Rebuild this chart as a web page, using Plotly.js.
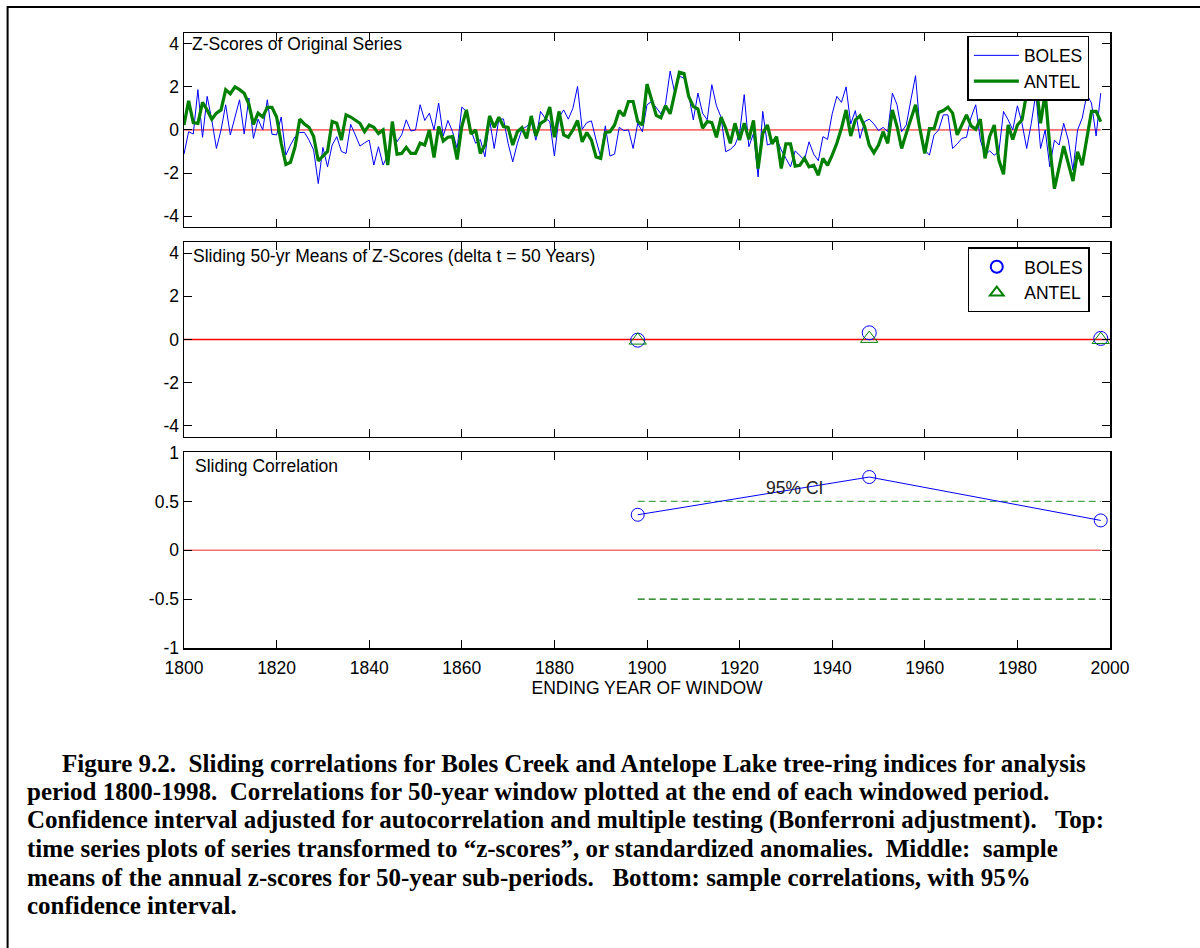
<!DOCTYPE html>
<html>
<head>
<meta charset="utf-8">
<script src="https://cdn.plot.ly/plotly-3.0.1.min.js"></script>
<style>
  html, body { margin: 0; padding: 0; background: #ffffff; }
  #chart { width: 1200px; height: 948px; }
</style>
</head>
<body>
<div id="chart"></div>
<script>
// ---------------- DATA ----------------
const startYear = 1800;

// Z-scores of original series, annual 1800-1998
const bolesZ = [
  -1.12, -0.08, -0.19, 1.87, -0.34, 1.56, 0.47, -0.86, 0.00, 1.17,   // 1800s
  -0.23, 0.62, 1.40, -0.19, 1.48, -0.39, 0.50, 0.00, 1.40, -0.20,    // 1810s
  -0.23, 0.60, -1.17, -0.70, -0.31, -0.12, -0.11, -0.47, -0.93, -2.49, // 1820s
  -0.81, -1.71, -0.70, -0.31, -1.00, -1.09, 0.26, -0.23, -0.75, -0.60, // 1830s
  -0.47, -1.63, -0.78, -1.63, -1.17, 0.00, -0.55, -0.23, 0.47, -0.05,  // 1840s
  0.00, 1.17, 0.44, 0.78, 0.00, 1.25, -0.28, 0.44, -0.08, -0.86,      // 1850s
  1.06, 0.86, -0.03, -0.62, -0.44, -1.25, 0.47, -0.86, 0.50, 0.51,    // 1860s
  -0.62, -1.48, -0.62, 0.03, 0.16, 0.39, -0.47, 0.86, 0.55, 0.39,     // 1870s
  -1.21, 0.59, 0.93, 0.50, 1.01, 2.02, 0.03, 0.34, 0.42, -0.47,       // 1880s
  -1.25, 0.19, -1.21, -1.12, 0.12, -0.03, 0.00, -0.86, 0.31, -0.08,   // 1890s
  1.17, 1.32, 1.05, 0.75, 1.21, 2.73, 1.71, 2.49, 2.41, 1.64,         // 1900s
  0.47, 1.71, 0.78, 0.47, 2.10, 1.12, 0.59, -1.01, -0.90, -0.70,      // 1910s
  -0.16, 1.64, -0.78, -0.16, -2.18, 0.86, -0.70, -0.62, -0.39, -0.93, // 1920s
  -1.32, -1.71, -0.97, -1.21, -1.40, -0.55, -1.12, -1.43, -0.31, -0.44, // 1930s
  0.75, 1.56, 1.28, 2.00, 0.28, 0.90, -0.39, 0.39, 0.50, 0.28,        // 1940s
  -0.03, 0.12, -0.08, 1.71, 1.17, -0.08, 0.23, 1.40, 2.52, -0.08,     // 1950s
  -0.93, -1.17, -0.23, 0.00, 0.70, 0.70, -0.86, -0.65, -0.39, -0.34,  // 1960s
  0.59, 1.17, -0.47, -1.17, -0.97, -1.17, -1.01, 0.86, 0.47, 0.00,    // 1970s
  1.12, 0.31, -0.86, 0.31, 1.71, -0.86, 0.00, -1.71, -0.47, -0.70,    // 1980s
  0.31, -0.47, -1.87, 0.00, 0.55, 1.64, 1.25, -0.28, 1.71             // 1990-1998
];

const antelZ = [
  0.23, 1.35, 0.34, 0.30, 1.28, 0.93, 0.50, 0.78, 0.93, 1.87,         // 1800s
  1.68, 2.00, 1.87, 1.70, 1.20, 0.26, 0.78, 0.60, 1.05, 1.05,         // 1810s
  0.60, -0.62, -1.60, -1.50, -0.78, 0.50, 0.28, 0.12, -0.30, -1.43,   // 1820s
  -1.21, -1.00, 0.39, 0.31, -0.47, 0.70, 0.60, 0.47, 0.31, -0.08,     // 1830s
  0.23, 0.12, -0.16, 0.00, -1.63, 0.39, -1.12, -1.09, -0.81, -1.09,   // 1840s
  -1.09, -0.61, -0.70, 0.00, -1.28, 0.16, -0.51, -0.34, -0.31, -1.37, // 1850s
  0.16, 0.93, -0.19, 0.00, -1.09, -0.70, 0.65, 0.12, 0.59, 0.16,      // 1860s
  0.12, -0.70, -0.08, 0.11, -0.39, 0.65, -0.28, 0.31, 0.44, 1.06,     // 1870s
  -0.34, 0.86, -0.23, -0.34, 0.00, 0.44, -0.55, -0.12, -0.47, -1.25,  // 1880s
  -1.32, -0.12, -0.08, 0.23, 0.90, 0.65, 1.32, 1.32, 0.39, 0.23,      // 1890s
  2.13, 1.40, 0.68, 0.57, 1.12, 0.75, 1.64, 2.68, 2.62, 1.56,         // 1900s
  1.09, 0.97, 0.08, 0.39, 0.34, -0.34, 0.59, 0.08, -0.62, 0.31,       // 1910s
  -0.47, 0.31, -0.44, 0.44, -1.79, -0.16, 0.23, -0.65, -0.31, -1.79,  // 1920s
  -0.65, -0.65, -1.68, -1.64, -1.32, -1.71, -1.64, -2.10, -1.32, -1.64, // 1930s
  -1.17, -0.62, 0.08, 0.93, -0.28, 0.47, 0.65, 0.16, -0.70, -1.06,    // 1940s
  -0.70, -0.08, -0.62, 0.93, 0.16, -0.86, -0.16, 0.55, 1.17, 0.00,    // 1950s
  -1.09, 0.06, 0.06, 0.81, 0.90, 1.06, 0.78, -0.23, 0.23, 0.70,       // 1960s
  0.19, 0.03, 0.50, -1.32, -0.31, 0.23, -1.40, -2.06, 0.23, -0.44,    // 1970s
  0.23, 0.47, 1.71, 2.60, 2.20, 0.31, 1.71, -0.78, -2.73, -1.71,      // 1980s
  -0.75, -1.56, -2.37, -1.01, -1.64, -0.39, 0.86, 0.86, 0.39          // 1990-1998
];

// Sliding 50-yr means (plotted at ending year of window)
const windowEndYears = [1898, 1948, 1998];
const bolesMeans = [-0.03, 0.31, 0.05];
const antelMeans = [-0.04, 0.04, -0.01];

// Sliding correlation
const slidingCorr = [0.363, 0.749, 0.305];
const ciUpper = [0.5, 0.5];
const ciLower = [-0.5, -0.5];
const ciYears = [1898, 1998];

// Reference zero lines
const zeroLineTopX = [1800, 1998];
const zeroLineMidX = [1800, 2000];
const zeroLineBotX = [1800, 1998];
const zeroLineY = [0, 0];

// Series names and tick labels
const seriesNames = ['BOLES', 'ANTEL'];
const xTickVals = [1800, 1820, 1840, 1860, 1880, 1900, 1920, 1940, 1960, 1980, 2000];
const zTickVals = [-4, -2, 0, 2, 4];
const rTickVals = [-1, -0.5, 0, 0.5, 1];
const rTickText = ['-1', '-0.5', '0', '0.5', '1'];

const captionLines = [
  'Figure 9.2.  Sliding correlations for Boles Creek and Antelope Lake tree-ring indices for analysis',
  'period 1800-1998.  Correlations for 50-year window plotted at the end of each windowed period.',
  'Confidence interval adjusted for autocorrelation and multiple testing (Bonferroni adjustment).   Top:',
  'time series plots of series transformed to \u201cz-scores\u201d, or standardized anomalies.  Middle:  sample',
  'means of the annual z-scores for 50-year sub-periods.   Bottom: sample correlations, with 95%',
  'confidence interval.'
];

// ---------------- LAYOUT HELPERS ----------------
const W = 1200, H = 948;
const ML = 183.5, MR = 90, MT = 33, MB = 299.7;
const PW = W - ML - MR, PH = H - MT - MB;
const px2x = p => (p - ML) / PW;
const py2y = p => (H - MB - p) / PH;

const sans = 'Arial, "Liberation Sans", Helvetica, sans-serif';
const serif = '"Times New Roman", "Liberation Serif", Times, serif';
const FS = 17.5;

const axisCommon = {
  showline: true, linecolor: '#000', linewidth: 1.5, mirror: 'ticks',
  ticks: 'inside', ticklen: 8, tickwidth: 1, tickcolor: '#000',
  showgrid: false, zeroline: false,
  tickfont: {family: sans, size: FS, color: '#000'}
};

const xCommon = Object.assign({}, axisCommon, {
  range: [1800, 2000], tickvals: xTickVals, ticktext: xTickVals.map(String)
});

// ---------------- TRACES ----------------
const traces = [
  // Top panel
  {x: zeroLineTopX, y: zeroLineY, xaxis: 'x', yaxis: 'y', mode: 'lines',
   line: {color: '#ff0000', width: 1}, showlegend: false, hoverinfo: 'skip'},
  {y: bolesZ, x0: startYear, dx: 1, xaxis: 'x', yaxis: 'y', mode: 'lines', name: seriesNames[0],
   line: {color: '#0000ff', width: 1}, legend: 'legend'},
  {y: antelZ, x0: startYear, dx: 1, xaxis: 'x', yaxis: 'y', mode: 'lines', name: seriesNames[1],
   line: {color: '#008000', width: 3.2}, legend: 'legend'},

  // Middle panel
  {x: zeroLineMidX, y: zeroLineY, xaxis: 'x2', yaxis: 'y2', mode: 'lines',
   line: {color: '#ff0000', width: 1.4}, showlegend: false, hoverinfo: 'skip'},
  {x: windowEndYears, y: bolesMeans, xaxis: 'x2', yaxis: 'y2', mode: 'markers', name: seriesNames[0],
   marker: {symbol: 'circle-open', size: 14, color: '#0000ff', line: {width: 1}}, legend: 'legend2',
   cliponaxis: false},
  {x: windowEndYears, y: antelMeans, xaxis: 'x2', yaxis: 'y2', mode: 'markers', name: seriesNames[1],
   marker: {symbol: 'triangle-up-open', size: 15, color: '#008000', line: {width: 1}}, legend: 'legend2',
   cliponaxis: false},

  // Bottom panel
  {x: zeroLineBotX, y: zeroLineY, xaxis: 'x3', yaxis: 'y3', mode: 'lines',
   line: {color: '#f07070', width: 1.6}, showlegend: false, hoverinfo: 'skip'},
  {x: ciYears, y: ciUpper, xaxis: 'x3', yaxis: 'y3', mode: 'lines',
   line: {color: '#4aa84a', width: 1.3, dash: '7px,4px'}, showlegend: false, hoverinfo: 'skip'},
  {x: ciYears, y: ciLower, xaxis: 'x3', yaxis: 'y3', mode: 'lines',
   line: {color: '#007000', width: 1.1, dash: '7px,4px'}, showlegend: false, hoverinfo: 'skip'},
  {x: windowEndYears, y: slidingCorr, xaxis: 'x3', yaxis: 'y3', mode: 'lines+markers',
   line: {color: '#0000ff', width: 1},
   marker: {symbol: 'circle-open', size: 13, color: '#0000ff', line: {width: 1}},
   showlegend: false, cliponaxis: false}
];

// ---------------- ANNOTATIONS ----------------
const annotations = [
  {xref: 'x domain', yref: 'y domain', x: 0.007, y: 0.943, xanchor: 'left', yanchor: 'middle',
   text: 'Z-Scores of Original Series', showarrow: false, font: {family: sans, size: FS, color: '#000'}},
  {xref: 'x2 domain', yref: 'y2 domain', x: 0.0078, y: 0.931, xanchor: 'left', yanchor: 'middle',
   text: 'Sliding 50-yr Means of Z-Scores (delta t = 50 Years)', showarrow: false,
   font: {family: sans, size: FS, color: '#000'}},
  {xref: 'x3 domain', yref: 'y3 domain', x: 0.01, y: 0.932, xanchor: 'left', yanchor: 'middle',
   text: 'Sliding Correlation', showarrow: false, font: {family: sans, size: FS, color: '#000'}},
  {xref: 'x3', yref: 'y3', x: 1931.8, y: 0.64, xanchor: 'center', yanchor: 'middle',
   text: '95% CI', showarrow: false, font: {family: sans, size: FS, color: '#222'}}
];

const captionX = [px2x(59), px2x(24), px2x(24), px2x(24), px2x(24), px2x(24)];
const captionY = [763.5, 792, 820.5, 849, 877.5, 906];
captionLines.forEach((t, i) => {
  annotations.push({
    xref: 'paper', yref: 'paper', x: captionX[i], y: py2y(captionY[i]),
    xanchor: 'left', yanchor: 'middle', align: 'left', showarrow: false,
    text: '<b>' + t + '</b>', font: {family: serif, size: 25, color: '#000'}
  });
});

// ---------------- LAYOUT ----------------
const layout = {
  width: W, height: H,
  margin: {l: ML, r: MR, t: MT, b: MB, pad: 0},
  paper_bgcolor: '#ffffff', plot_bgcolor: '#ffffff',
  font: {family: sans, size: FS, color: '#000'},
  showlegend: true,
  xaxis: Object.assign({}, xCommon, {domain: [0, 1], anchor: 'y', showticklabels: false}),
  yaxis: Object.assign({}, axisCommon, {domain: [py2y(227), 1], anchor: 'x', range: [-4.5, 4.5],
          tickvals: zTickVals, ticktext: zTickVals.map(String)}),
  xaxis2: Object.assign({}, xCommon, {domain: [0, 1], anchor: 'y2', showticklabels: false}),
  yaxis2: Object.assign({}, axisCommon, {domain: [py2y(437), py2y(242.3)], anchor: 'x2', range: [-4.5, 4.5],
          tickvals: zTickVals, ticktext: zTickVals.map(String)}),
  xaxis3: Object.assign({}, xCommon, {domain: [0, 1], anchor: 'y3', ticklabelstandoff: 3,
          title: {text: 'ENDING YEAR OF WINDOW', font: {family: sans, size: FS, color: '#000'}, standoff: 4}}),
  yaxis3: Object.assign({}, axisCommon, {domain: [0, py2y(452.7)], anchor: 'x3', range: [-1, 1],
          tickvals: rTickVals, ticktext: rTickText}),
  legend: {
    x: px2x(967.3), y: py2y(36), xanchor: 'left', yanchor: 'top',
    bgcolor: '#ffffff', bordercolor: '#000', borderwidth: 1.5,
    itemwidth: 45,
    font: {family: sans, size: FS, color: '#000'}, tracegroupgap: 2
  },
  legend2: {
    x: px2x(967.7), y: py2y(247.5), xanchor: 'left', yanchor: 'top',
    bgcolor: '#ffffff', bordercolor: '#000', borderwidth: 1.5, itemsizing: 'constant',
    itemwidth: 45,
    font: {family: sans, size: FS, color: '#000'}, tracegroupgap: 2
  },
  annotations: annotations,
  shapes: [
    {type: 'rect', xref: 'paper', yref: 'paper', layer: 'above',
     x0: px2x(7), x1: px2x(1215), y0: py2y(965), y1: py2y(7),
     line: {color: '#000', width: 2}, fillcolor: 'rgba(0,0,0,0)'}
  ]
};

Plotly.newPlot('chart', traces, layout, {staticPlot: true, displayModeBar: false});
</script>
</body>
</html>
